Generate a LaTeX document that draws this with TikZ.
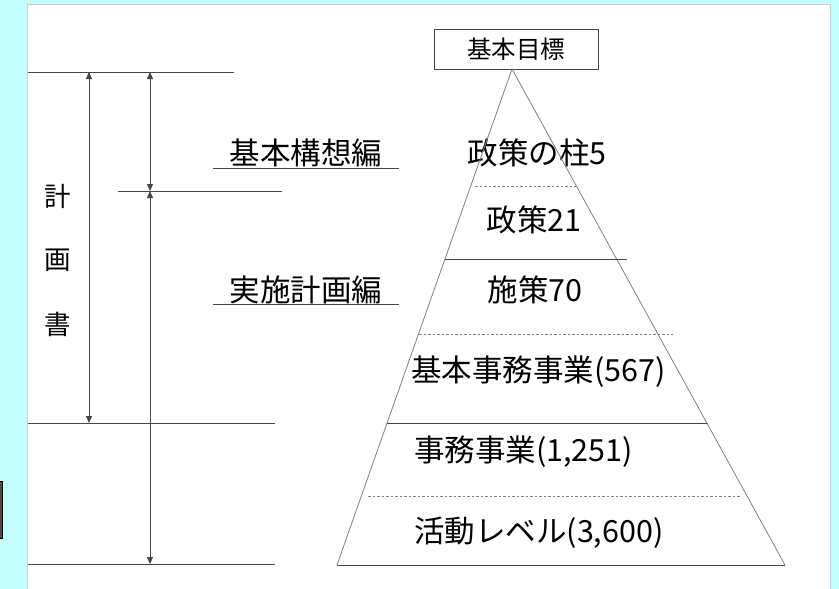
\documentclass[tikz,border=0pt]{standalone}
\usepackage{fontspec}
\setmainfont{Noto Sans CJK JP}
\usetikzlibrary{arrows.meta}
\definecolor{lightcyan}{RGB}{196,255,255}
\definecolor{linegray}{RGB}{70,70,70}

\tikzset{
  bigtext/.style={inner sep=0pt,font=\fontsize{30.5}{30.5}\selectfont},
  smalltext/.style={inner sep=0pt,font=\fontsize{26.5}{26.5}\selectfont},
  level/.style={linegray,line width=0.9pt},
  sublevel/.style={gray,line width=0.8pt,dash pattern=on 2.5pt off 2pt},
  span/.style={linegray,line width=0.9pt,
    arrows={Triangle[width=6pt,length=7pt]-Triangle[width=6pt,length=7pt]}}
}

\begin{document}
\begin{tikzpicture}[x=1pt,y=-1pt]
        \useasboundingbox (0,0) rectangle (839,589);
        \fill[lightcyan] (0,0) rectangle (839,589);
        \fill[white] (27.5,4) rectangle (830,589);
        \draw[gray!40] (27.5,589) -- (27.5,4) -- (830,4) -- (830,589);
        \filldraw[fill=gray!60!black,draw=black,line width=0.8pt] (-2,481) rectangle (2.5,538);

        % left side levels
        \coordinate (top1) at (28,72);    \coordinate (top2) at (234,72);
        \coordinate (mid1) at (118,191);  \coordinate (mid2) at (282,191);
        \coordinate (low1) at (28,423);   \coordinate (low2) at (275,423);
        \coordinate (bot1) at (28,564);   \coordinate (bot2) at (275,564);

        \coordinate (p1) at (89,72);   \coordinate (p2) at (89,423);
        \coordinate (q1) at (150,72);  \coordinate (q2) at (150,191);
        \coordinate (q3) at (150,564);

        % pyramid
        \coordinate (apex) at (512,69);
        \coordinate (base1) at (337,565);
        \coordinate (base2) at (785,565);

        \coordinate (d1a) at (475,186);  \coordinate (d1b) at (576,186);
        \coordinate (s1a) at (445,259);  \coordinate (s1b) at (627,259);
        \coordinate (d2a) at (419,334);  \coordinate (d2b) at (673,334);
        \coordinate (s2a) at (387,423);  \coordinate (s2b) at (707,423);
        \coordinate (d3a) at (368,496);  \coordinate (d3b) at (740,496);

        \node[draw=linegray,line width=0.8pt,minimum width=164pt,minimum height=40pt,
              inner sep=0pt,font=\fontsize{24.5}{24.5}\selectfont] (goal) at (516,49) {基本目標};

        \node[smalltext] (kei) at (58,196) {計};
        \node[smalltext] (ga) at (58,260) {画};
        \node[smalltext] (sho) at (58,324) {書};

        \node[bigtext] (kousou) at (306,153) {基本構想編};
        \node[bigtext] (jisshi) at (306,290) {実施計画編};
        \coordinate (u1a) at (213,168);  \coordinate (u1b) at (399,168);
        \coordinate (u2a) at (213,304);  \coordinate (u2b) at (399,304);

        \node[bigtext] (hashira) at (537,153) {政策の柱5};
        \node[bigtext] (seisaku) at (534,220) {政策21};
        \node[bigtext] (shisaku) at (535,290) {施策70};
        \node[bigtext,anchor=west] (kihon) at (411,372) {基本事務事業(567)};
        \node[bigtext,anchor=west] (jimu) at (414,452) {事務事業(1,251)};
        \node[bigtext,anchor=west] (katsudo) at (414,533) {活動レベル(3,600)};

        \draw[level] (top1) -- (top2);
        \draw[level] (mid1) -- (mid2);
        \draw[level] (low1) -- (low2);
        \draw[level] (bot1) -- (bot2);
        \draw[level] (u1a) -- (u1b);
        \draw[level] (u2a) -- (u2b);

        \draw[span] (p1) -- (p2);
        \draw[span] (q1) -- (q2);
        \draw[span] (q2) -- (q3);

        \draw[gray,line width=0.8pt] (base1) -- (apex) -- (base2);
        \draw[level] (base1) -- (base2);
        \draw[level] (s1a) -- (s1b);
        \draw[level] (s2a) -- (s2b);
        \draw[sublevel] (d1a) -- (d1b);
        \draw[sublevel] (d2a) -- (d2b);
        \draw[sublevel] (d3a) -- (d3b);
\end{tikzpicture}
\end{document}
